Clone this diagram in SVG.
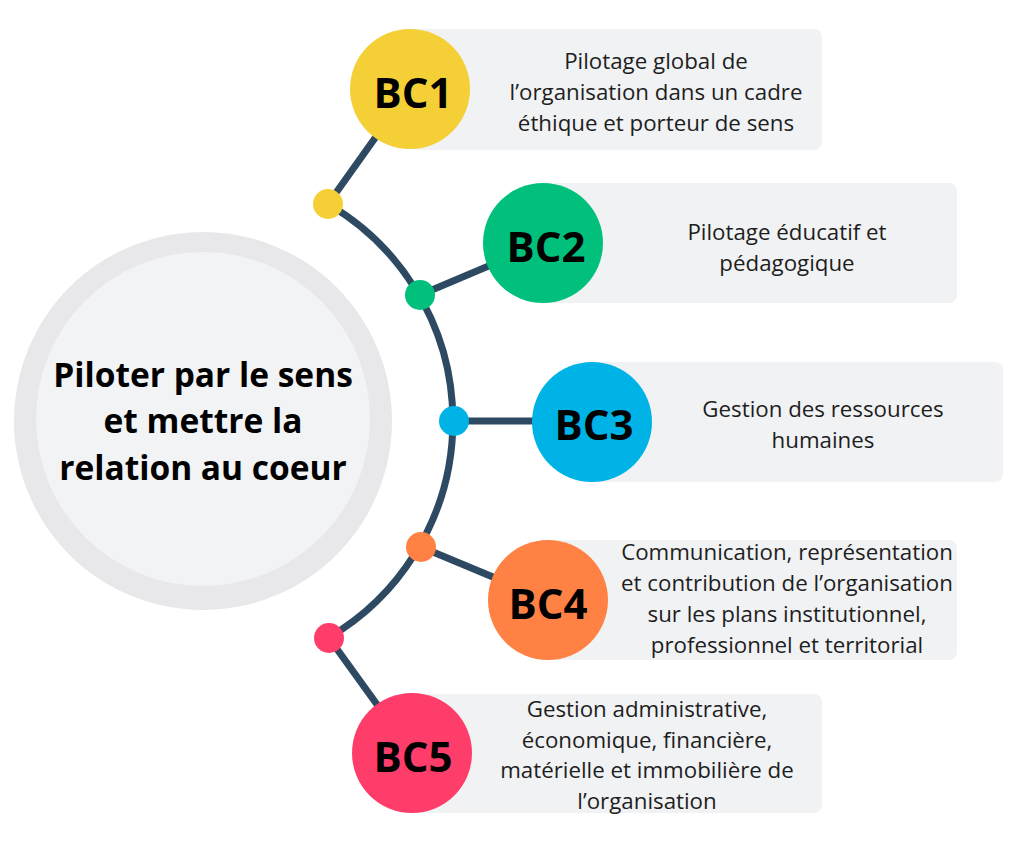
<svg xmlns="http://www.w3.org/2000/svg" width="1024" height="850" viewBox="0 0 1024 850">
<style>
.box{fill:#f1f2f4}
.desc{font-family:"Open Sans","Liberation Sans",sans-serif;font-size:22.3px;fill:#1e1e1e;text-anchor:middle}
.bc{font-family:"Open Sans","Liberation Sans",sans-serif;font-size:42px;font-weight:bold;fill:#000;text-anchor:middle}
.link{stroke:#2d4a62;stroke-width:7;fill:none}
.title{font-family:"Open Sans","Liberation Sans",sans-serif;font-size:33.5px;font-weight:bold;fill:#000;text-anchor:middle}
</style>
<rect width="1024" height="850" fill="#fff"/>
<g id="center">
<circle cx="203" cy="421" r="189" fill="#e8e8ea"/>
<circle cx="203" cy="419" r="167" fill="#f2f3f5"/>
<text class="title" x="203" y="387">Piloter par le sens</text>
<text class="title" x="203" y="433">et mettre la </text>
<text class="title" x="203" y="480">relation au coeur</text>
</g>
<g id="connectors">
<path class="link" d="M328 204 A251 251 0 0 1 328 638"/>
<line class="link" x1="328" y1="204" x2="410" y2="89"/>
<line class="link" x1="420" y1="295" x2="543" y2="243"/>
<line class="link" x1="454" y1="421" x2="592" y2="421"/>
<line class="link" x1="421" y1="547" x2="548" y2="600"/>
<line class="link" x1="329" y1="638" x2="412" y2="753"/>
</g>
<g id="bc1">
<rect class="box" x="410" y="29" width="412" height="121" rx="8"/>
<circle cx="328" cy="204" r="15" fill="#f5cf36"/>
<circle cx="410" cy="89" r="60" fill="#f5cf36"/>
<text class="bc" x="413" y="108">BC1</text>
<text class="desc" x="656" y="69">Pilotage global de</text>
<text class="desc" x="656" y="100">l’organisation dans un cadre</text>
<text class="desc" x="656" y="131">éthique et porteur de sens</text>
</g>
<g id="bc2">
<rect class="box" x="543" y="183" width="414" height="120" rx="8"/>
<circle cx="420" cy="295" r="15" fill="#00c07c"/>
<circle cx="543" cy="243" r="60" fill="#00c07c"/>
<text class="bc" x="546" y="262">BC2</text>
<text class="desc" x="787" y="240">Pilotage éducatif et</text>
<text class="desc" x="787" y="271">pédagogique</text>
</g>
<g id="bc3">
<rect class="box" x="592" y="362" width="411" height="120" rx="8"/>
<circle cx="454" cy="421" r="15" fill="#00b3e6"/>
<circle cx="592" cy="422" r="60" fill="#00b3e6"/>
<text class="bc" x="594" y="440">BC3</text>
<text class="desc" x="823" y="417">Gestion des ressources</text>
<text class="desc" x="823" y="448">humaines</text>
</g>
<g id="bc4">
<rect class="box" x="548" y="540" width="409" height="120" rx="8"/>
<circle cx="421" cy="547" r="15" fill="#ff8244"/>
<circle cx="548" cy="600" r="60" fill="#ff8244"/>
<text class="bc" x="548" y="619">BC4</text>
<text class="desc" x="787" y="560">Communication, représentation</text>
<text class="desc" x="787" y="591">et contribution de l’organisation</text>
<text class="desc" x="787" y="622">sur les plans institutionnel,</text>
<text class="desc" x="787" y="653">professionnel et territorial</text>
</g>
<g id="bc5">
<rect class="box" x="412" y="694" width="410" height="119" rx="8"/>
<circle cx="329" cy="638" r="15" fill="#ff3d6b"/>
<circle cx="412" cy="753" r="60" fill="#ff3d6b"/>
<text class="bc" x="413" y="772">BC5</text>
<text class="desc" x="647" y="717">Gestion administrative,</text>
<text class="desc" x="647" y="748">économique, financière,</text>
<text class="desc" x="647" y="778">matérielle et immobilière de</text>
<text class="desc" x="647" y="809">l’organisation</text>
</g>
</svg>
